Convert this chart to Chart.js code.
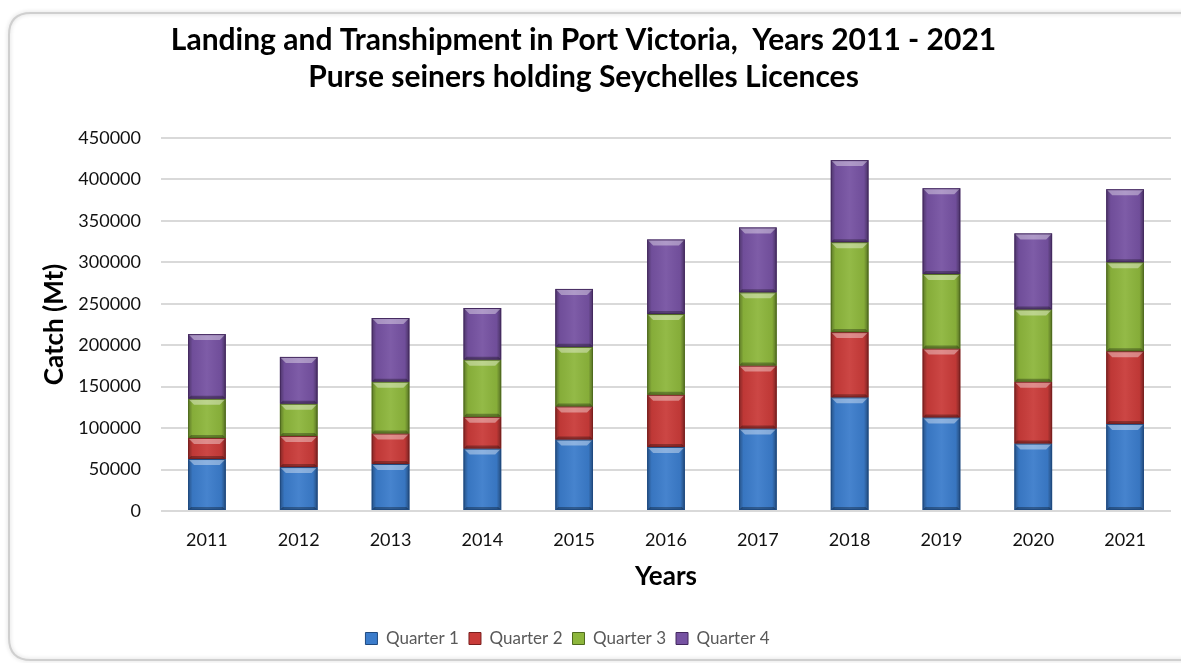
<!DOCTYPE html>
<html>
<head>
<meta charset="utf-8">
<script src="https://cdn.jsdelivr.net/npm/chart.js@4.4.1/dist/chart.umd.min.js"></script>
<style>
  html, body { margin: 0; padding: 0; background: #ffffff; }
  #wrap { width: 1181px; height: 663px; position: relative; }
</style>
</head>
<body>
<div id="wrap"><canvas id="c" width="1181" height="663"></canvas></div>
<script>
// ---- data ----
const years = ['2011','2012','2013','2014','2015','2016','2017','2018','2019','2020','2021'];
const quarter1 = [62700, 53000, 56700, 75300, 86200, 77300, 99500, 137100, 112900, 81400, 105100];
const quarter2 = [25500, 37600, 36800, 38300, 40000, 62900, 75900, 78700, 83100, 74600, 87700];
const quarter3 = [47200, 38800, 62500, 69000, 71800, 97400, 88400, 108500, 90000, 87200, 107300];
const quarter4 = [78000, 56500, 76800, 62300, 69900, 90000, 78300, 99000, 103400, 91700, 88100];
const seriesNames = ['Quarter 1', 'Quarter 2', 'Quarter 3', 'Quarter 4'];
const yTicks = [0, 50000, 100000, 150000, 200000, 250000, 300000, 350000, 400000, 450000];
const titleLines = ['Landing and Transhipment in Port Victoria,  Years 2011 - 2021', 'Purse seiners holding Seychelles Licences'];

const colors = ['#3B7CCB', '#C93B39', '#8DB63C', '#7652A2'];
const borders = ['#1F4A80', '#7A1F1E', '#4F6B1E', '#44295F'];

const FONT = 'Lato, "Open Sans", sans-serif';

// frame plugin
const framePlugin = {
  id: 'frame',
  beforeDraw(chart) {
    const ctx = chart.ctx;
    ctx.save();
    ctx.fillStyle = '#ffffff';
    ctx.fillRect(0, 0, chart.width, chart.height);
    ctx.shadowColor = 'rgba(0,0,0,0.18)';
    ctx.shadowBlur = 4;
    ctx.strokeStyle = '#cfcfcf';
    ctx.lineWidth = 2;
    const x = 9, y = 13, w = 1200, h = 647, r = 22;
    ctx.beginPath();
    ctx.moveTo(x + r, y);
    ctx.lineTo(x + w - r, y);
    ctx.quadraticCurveTo(x + w, y, x + w, y + r);
    ctx.lineTo(x + w, y + h - r);
    ctx.quadraticCurveTo(x + w, y + h, x + w - r, y + h);
    ctx.lineTo(x + r, y + h);
    ctx.quadraticCurveTo(x, y + h, x, y + h - r);
    ctx.lineTo(x, y + r);
    ctx.quadraticCurveTo(x, y, x + r, y);
    ctx.closePath();
    ctx.stroke();
    ctx.restore();
  }
};

// shift title / legend horizontally to match reference centering
const shiftPlugin = {
  id: 'shift',
  afterLayout(chart) {
    if (chart.titleBlock) { chart.titleBlock.left -= 7; chart.titleBlock.right -= 7; }
    if (chart.legend) { chart.legend.left -= 23; chart.legend.right -= 23; }
  }
};

// bevel decoration on each bar element (positions come from the library's elements)
const bevelPlugin = {
  id: 'bevel',
  afterDatasetsDraw(chart) {
    const ctx = chart.ctx;
    ctx.save();
    chart.data.datasets.forEach((ds, di) => {
      const meta = chart.getDatasetMeta(di);
      if (meta.hidden) return;
      meta.data.forEach(el => {
        const p = el.getProps(['x', 'y', 'base', 'width'], true);
        const l = p.x - p.width / 2, r = p.x + p.width / 2;
        const t = Math.min(p.y, p.base), b = Math.max(p.y, p.base);
        const h = b - t;
        if (h < 2) return;
        const bv = Math.min(6, h / 3);
        const g = ctx.createLinearGradient(l, 0, r, 0);
        g.addColorStop(0, 'rgba(0,0,0,0.35)');
        g.addColorStop(0.12, 'rgba(0,0,0,0.05)');
        g.addColorStop(0.5, 'rgba(255,255,255,0.06)');
        g.addColorStop(0.88, 'rgba(0,0,0,0.05)');
        g.addColorStop(1, 'rgba(0,0,0,0.40)');
        ctx.fillStyle = g;
        ctx.fillRect(l, t, r - l, h);
        ctx.fillStyle = 'rgba(255,255,255,0.38)';
        ctx.beginPath();
        ctx.moveTo(l, t); ctx.lineTo(r, t); ctx.lineTo(r - bv, t + bv); ctx.lineTo(l + bv, t + bv); ctx.closePath();
        ctx.fill();
        ctx.fillStyle = 'rgba(0,0,0,0.30)';
        ctx.beginPath();
        ctx.moveTo(l, b); ctx.lineTo(r, b); ctx.lineTo(r - bv * 0.5, b - bv * 0.5); ctx.lineTo(l + bv * 0.5, b - bv * 0.5); ctx.closePath();
        ctx.fill();
        ctx.strokeStyle = borders[di];
        ctx.lineWidth = 1;
        ctx.strokeRect(l + 0.5, t + 0.5, r - l - 1, h - 1);
      });
    });
    ctx.restore();
  }
};

const datasets = [quarter1, quarter2, quarter3, quarter4].map((arr, i) => ({
  label: seriesNames[i],
  data: arr,
  backgroundColor: colors[i],
  borderColor: borders[i],
  borderWidth: 0,
  categoryPercentage: 1.0,
  barPercentage: 0.41
}));

new Chart(document.getElementById('c'), {
  type: 'bar',
  data: { labels: years, datasets },
  plugins: [framePlugin, shiftPlugin, bevelPlugin],
  options: {
    responsive: false,
    animation: false,
    layout: { padding: { left: 10, right: 10, top: 12, bottom: 6 } },
    plugins: {
      title: {
        display: true,
        text: titleLines,
        color: '#000000',
        font: { family: FONT, size: 30, weight: 'bold', lineHeight: 1.233 },
        padding: { top: 9.5, bottom: 42.5 }
      },
      legend: {
        display: true,
        position: 'bottom',
        labels: {
          color: '#595959',
          font: { family: FONT, size: 17 },
          boxWidth: 12,
          boxHeight: 12,
          padding: 10,
          generateLabels(chart) {
            return chart.data.datasets.map((d, i) => ({
              text: d.label,
              fillStyle: colors[i],
              strokeStyle: borders[i],
              lineWidth: 1,
              hidden: false,
              datasetIndex: i,
              fontColor: '#595959'
            }));
          }
        }
      },
      tooltip: { enabled: false }
    },
    scales: {
      x: {
        stacked: true,
        grid: { display: false, drawTicks: false },
        border: { display: false },
        ticks: { color: '#111111', font: { family: FONT, size: 18 }, padding: 18 },
        afterFit(axis) { axis.height = 109; },
        title: {
          display: true,
          text: 'Years',
          color: '#000000',
          font: { family: FONT, size: 26, weight: 'bold' },
          padding: { top: 10, bottom: 28 }
        }
      },
      y: {
        stacked: true,
        min: 0,
        max: 450000,
        afterBuildTicks(axis) { axis.ticks = yTicks.map(v => ({ value: v })); },
        afterFit(axis) { axis.width = 151; },
        grid: { color: '#d9d9d9', lineWidth: 2, drawTicks: false },
        border: { display: false },
        ticks: {
          color: '#111111',
          font: { family: FONT, size: 18 },
          padding: 20,
          callback: v => String(v)
        },
        title: {
          display: true,
          text: 'Catch (Mt)',
          color: '#000000',
          font: { family: FONT, size: 26, weight: 'bold' },
          padding: { top: 29, bottom: 4 }
        }
      }
    }
  }
});
</script>
</body>
</html>
